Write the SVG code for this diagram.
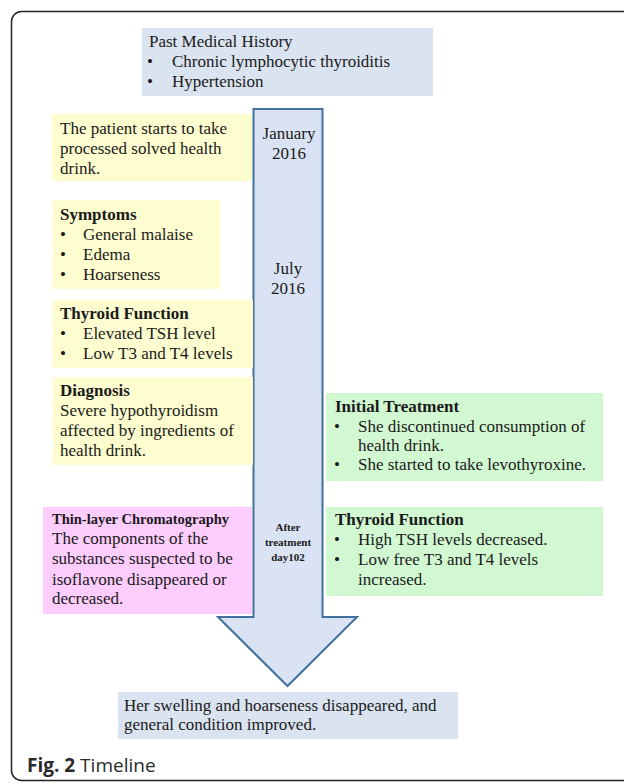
<svg xmlns="http://www.w3.org/2000/svg" width="624" height="784" viewBox="0 0 624 784">
<style>
text{font-family:"Liberation Serif","Times New Roman",serif;font-size:17px;fill:#1a1a1a}
.b{font-weight:bold}
.blue{fill:#dae3f0}
.yel{fill:#fdfdcf}
.grn{fill:#d2f8d2}
.pnk{fill:#fdcdfd}
.sm{font-size:11px;font-weight:bold;text-anchor:middle}
.mid{text-anchor:middle}
.cap{font-family:"Open Sans","Noto Sans",sans-serif;font-size:19px;fill:#2a2a2a}
</style>
<rect x="0" y="0" width="624" height="784" fill="#ffffff"/>
<rect x="11.5" y="11.5" width="640" height="769" rx="10" ry="10" fill="none" stroke="#222" stroke-width="1.5"/>

<g id="connectors">
<path id="timeline-arrow" d="M253.5,109 H322.5 V617 H357 L287.5,686 L218,617 H253.5 Z" fill="#dae3f3" stroke="#41719c" stroke-width="2" stroke-linejoin="miter"/>
</g>

<g id="past-history">
<rect class="blue" x="142" y="28" width="291" height="68"/>
<text x="149" y="47">Past Medical History</text>
<text x="147" y="67">•</text><text x="172" y="67">Chronic lymphocytic thyroiditis</text>
<text x="147" y="87">•</text><text x="172" y="87">Hypertension</text>
</g>

<g id="date-jan">
<text class="mid" x="289" y="139">January</text>
<text class="mid" x="289" y="159">2016</text>
</g>

<g id="date-jul">
<text class="mid" x="288" y="274">July</text>
<text class="mid" x="288" y="294">2016</text>
</g>

<g id="date-after">
<text class="sm" x="288" y="531">After</text>
<text class="sm" x="288" y="546">treatment</text>
<text class="sm" x="288" y="561">day102</text>
</g>

<g id="start-drink">
<rect class="yel" x="52" y="114" width="200" height="67"/>
<text x="60" y="134">The patient starts to take</text>
<text x="60" y="154">processed solved health</text>
<text x="60" y="174">drink.</text>
</g>

<g id="symptoms">
<rect class="yel" x="53" y="200" width="167" height="89"/>
<text class="b" x="60" y="220">Symptoms</text>
<text x="60" y="240">•</text><text x="83" y="240">General malaise</text>
<text x="60" y="260">•</text><text x="83" y="260">Edema</text>
<text x="60" y="280">•</text><text x="83" y="280">Hoarseness</text>
</g>

<g id="thyroid-1">
<rect class="yel" x="53" y="300" width="200" height="68"/>
<text class="b" x="60" y="319">Thyroid Function</text>
<text x="60" y="339">•</text><text x="83" y="339">Elevated TSH level</text>
<text x="60" y="359">•</text><text x="83" y="359">Low T3 and T4 levels</text>
</g>

<g id="diagnosis">
<rect class="yel" x="53" y="377" width="200" height="88"/>
<text class="b" x="60" y="396">Diagnosis</text>
<text x="60" y="416">Severe hypothyroidism</text>
<text x="60" y="436">affected by ingredients of</text>
<text x="60" y="456">health drink.</text>
</g>

<g id="initial-treatment">
<rect class="grn" x="326" y="393" width="277" height="88"/>
<text class="b" x="335" y="412">Initial Treatment</text>
<text x="334" y="432">•</text><text x="358" y="432">She discontinued consumption of</text>
<text x="358" y="451">health drink.</text>
<text x="334" y="470">•</text><text x="358" y="470">She started to take levothyroxine.</text>
</g>

<g id="thyroid-2">
<rect class="grn" x="326" y="507" width="277" height="89"/>
<text class="b" x="335" y="525">Thyroid Function</text>
<text x="334" y="545">•</text><text x="358" y="545">High TSH levels decreased.</text>
<text x="334" y="565">•</text><text x="358" y="565">Low free T3 and T4 levels</text>
<text x="358" y="585">increased.</text>
</g>

<g id="tlc">
<rect class="pnk" x="43" y="507" width="209" height="107"/>
<text class="b" x="52" y="524" style="font-size:14.5px">Thin-layer Chromatography</text>
<text x="52" y="544">The components of the</text>
<text x="52" y="564">substances suspected to be</text>
<text x="52" y="585">isoflavone disappeared or</text>
<text x="52" y="604">decreased.</text>
</g>

<g id="outcome">
<rect class="blue" x="118" y="692" width="340" height="47"/>
<text x="124" y="711">Her swelling and hoarseness disappeared, and</text>
<text x="124" y="730">general condition improved.</text>
</g>

<text class="cap" x="27" y="772"><tspan font-weight="bold">Fig. 2</tspan> Timeline</text>
</svg>
